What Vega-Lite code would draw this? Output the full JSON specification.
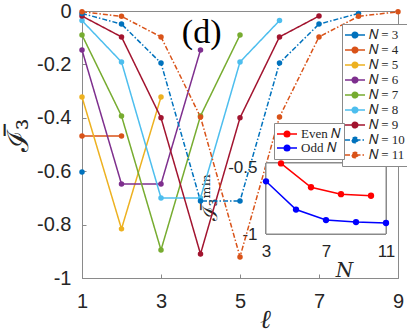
{
  "$schema": "https://vega.github.io/schema/vega-lite/v6.json",
  "autosize": "none",
  "width": 316,
  "height": 267,
  "padding": {"left": 82, "top": 11, "right": 9, "bottom": 54},
  "background": "white",
  "config": {
    "view": {"stroke": "#8a8a8a", "strokeWidth": 1},
    "font": "Liberation Sans",
    "axis": {"grid": false, "domainColor": "#8a8a8a", "tickColor": "#8a8a8a", "labelColor": "#262626", "titleColor": "#262626", "titleFontWeight": "normal"}
  },
  "datasets": {
    "main": [
      {"N": 3, "l": 1, "v": -0.603},
      {"N": 4, "l": 1, "v": -0.468}, {"N": 4, "l": 2, "v": -0.468},
      {"N": 5, "l": 1, "v": -0.322}, {"N": 5, "l": 2, "v": -0.816}, {"N": 5, "l": 3, "v": -0.322},
      {"N": 6, "l": 1, "v": -0.146}, {"N": 6, "l": 2, "v": -0.648}, {"N": 6, "l": 3, "v": -0.648}, {"N": 6, "l": 4, "v": -0.146},
      {"N": 7, "l": 1, "v": -0.09}, {"N": 7, "l": 2, "v": -0.393}, {"N": 7, "l": 3, "v": -0.895}, {"N": 7, "l": 4, "v": -0.393}, {"N": 7, "l": 5, "v": -0.09},
      {"N": 8, "l": 1, "v": -0.036}, {"N": 8, "l": 2, "v": -0.191}, {"N": 8, "l": 3, "v": -0.7}, {"N": 8, "l": 4, "v": -0.7}, {"N": 8, "l": 5, "v": -0.191}, {"N": 8, "l": 6, "v": -0.036},
      {"N": 9, "l": 1, "v": -0.019}, {"N": 9, "l": 2, "v": -0.097}, {"N": 9, "l": 3, "v": -0.4}, {"N": 9, "l": 4, "v": -0.91}, {"N": 9, "l": 5, "v": -0.4}, {"N": 9, "l": 6, "v": -0.097}, {"N": 9, "l": 7, "v": -0.019},
      {"N": 10, "l": 1, "v": -0.009}, {"N": 10, "l": 2, "v": -0.049}, {"N": 10, "l": 3, "v": -0.195}, {"N": 10, "l": 4, "v": -0.712}, {"N": 10, "l": 5, "v": -0.712}, {"N": 10, "l": 6, "v": -0.195}, {"N": 10, "l": 7, "v": -0.049}, {"N": 10, "l": 8, "v": -0.009},
      {"N": 11, "l": 1, "v": -0.003}, {"N": 11, "l": 2, "v": -0.02}, {"N": 11, "l": 3, "v": -0.097}, {"N": 11, "l": 4, "v": -0.397}, {"N": 11, "l": 5, "v": -0.921}, {"N": 11, "l": 6, "v": -0.397}, {"N": 11, "l": 7, "v": -0.097}, {"N": 11, "l": 8, "v": -0.02}, {"N": 11, "l": 9, "v": -0.003}
    ],
    "inset": [
      {"parity": "Even", "N": 4, "m": -0.468}, {"parity": "Even", "N": 6, "m": -0.648}, {"parity": "Even", "N": 8, "m": -0.7}, {"parity": "Even", "N": 10, "m": -0.712},
      {"parity": "Odd", "N": 3, "m": -0.603}, {"parity": "Odd", "N": 5, "m": -0.816}, {"parity": "Odd", "N": 7, "m": -0.895}, {"parity": "Odd", "N": 9, "m": -0.91}, {"parity": "Odd", "N": 11, "m": -0.917}
    ]
  },
  "layer": [
    {
      "data": {"name": "main"},
      "encoding": {
        "x": {"field": "l", "type": "quantitative", "scale": {"domain": [1, 9], "nice": false},
          "axis": {"values": [1, 3, 5, 7, 9], "labelFontSize": 20, "tickSize": -4, "labelPadding": 17, "labelFlush": false,
            "title": "ℓ", "titleFont": "DejaVu Serif", "titleFontSize": 26, "titleFontStyle": "italic", "titleX": 183, "titleY": 41, "titleBaseline": "middle", "titleAlign": "center"}},
        "y": {"field": "v", "type": "quantitative", "scale": {"domain": [-1, 0], "nice": false},
          "axis": {"values": [0, -0.2, -0.4, -0.6, -0.8, -1], "labelFontSize": 20, "tickSize": -4, "labelPadding": 15, "labelFlush": false,
            "labelExpr": "datum.value == 0 ? '0' : '-' + format(-datum.value, '~g')",
            "title": "ℐ̅₃", "titleFont": "DejaVu Serif", "titleFontSize": 29, "titleX": -64, "titleY": 124, "titleAngle": -90, "titleBaseline": "middle", "titleAlign": "center"}}
      },
      "layer": [
        {
          "mark": {"type": "line", "strokeWidth": 1.5},
          "encoding": {
            "stroke": {"field": "N", "type": "nominal",
              "scale": {"domain": [3, 4, 5, 6, 7, 8, 9, 10, 11], "range": ["#0072BD", "#D95319", "#EDB120", "#7E2F8E", "#77AC30", "#4DBEEE", "#A2142F", "#0072BD", "#D95319"]},
              "legend": {"orient": "none", "legendX": 260, "legendY": 13, "title": null, "direction": "vertical",
                "fillColor": "white", "strokeColor": "#8a8a8a", "padding": 4,
                "symbolType": "M-1.333,0H2M-0.134,0A0.467,0.467,0,1,0,0.8,0A0.467,0.467,0,1,0,-0.134,0Z",
                "symbolSize": 144, "symbolStrokeWidth": 1.5, "symbolOpacity": 1,
                "labelFont": "Liberation Serif", "labelFontSize": 13, "labelColor": "#262626", "labelOffset": 9, "rowPadding": 1,
                "labelExpr": "'𝑁 = ' + datum.label"}},
            "strokeDash": {"field": "N", "type": "nominal",
              "scale": {"domain": [3, 4, 5, 6, 7, 8, 9, 10, 11], "range": [[1, 0], [1, 0], [1, 0], [1, 0], [1, 0], [1, 0], [1, 0], [5, 2, 1.5, 2], [5, 2, 1.5, 2]]}}
          }
        },
        {
          "mark": {"type": "point", "filled": true, "size": 30, "opacity": 1},
          "encoding": {
            "fill": {"field": "N", "type": "nominal",
              "scale": {"domain": [3, 4, 5, 6, 7, 8, 9, 10, 11], "range": ["#0072BD", "#D95319", "#EDB120", "#7E2F8E", "#77AC30", "#4DBEEE", "#A2142F", "#0072BD", "#D95319"]}}
          }
        },
        {
          "transform": [{"filter": "datum.N == 3"}],
          "mark": {"type": "text", "text": "(d)", "font": "Liberation Serif", "fontSize": 34, "fontWeight": "normal", "fill": "#000000", "align": "center", "baseline": "middle"},
          "encoding": {"x": {"datum": 4.03}, "y": {"datum": -0.082}}
        }
      ]
    },
    {
      "data": {"name": "inset"},
      "encoding": {
        "x": {"field": "N", "type": "quantitative", "scale": {"domain": [3, 11], "range": [184, 304], "nice": false},
          "axis": {"orient": "bottom", "offset": -44, "values": [3, 7, 11], "labelFontSize": 17, "ticks": false, "domain": false, "labelPadding": 9, "labelFlush": false,
            "title": "𝑁", "titleFont": "DejaVu Serif", "titleFontSize": 20, "titleX": 262, "titleY": 36, "titleBaseline": "middle", "titleAlign": "center"}},
        "y": {"field": "m", "type": "quantitative", "scale": {"domain": [-1, -0.465], "range": [223, 152], "nice": false, "zero": false},
          "axis": {"orient": "left", "offset": -184, "values": [-0.5, -1], "labelFontSize": 17, "ticks": false, "domain": false, "labelPadding": 9, "labelFlush": false,
            "labelExpr": "'-' + format(-datum.value, '~g')",
            "title": "ℐ̅₃ᵐⁱⁿ", "titleFont": "DejaVu Serif", "titleFontSize": 20, "titleX": -56, "titleY": 186, "titleAngle": -90, "titleBaseline": "middle", "titleAlign": "center"}}
      },
      "layer": [
        {
          "mark": {"type": "rect", "fill": "white", "stroke": "#8a8a8a", "strokeWidth": 1},
          "encoding": {"x": {"datum": 3}, "x2": {"datum": 11}, "y": {"datum": -1}, "y2": {"datum": -0.465}}
        },
        {
          "mark": {"type": "line", "strokeWidth": 1.5},
          "encoding": {
            "color": {"field": "parity", "type": "nominal", "scale": {"domain": ["Even", "Odd"], "range": ["#ff0000", "#0000ff"]},
              "legend": {"orient": "none", "legendX": 192, "legendY": 112, "title": null, "direction": "vertical",
                "fillColor": "white", "strokeColor": "#8a8a8a", "padding": 4,
                "symbolType": "M-1.333,0H2M-0.134,0A0.467,0.467,0,1,0,0.8,0A0.467,0.467,0,1,0,-0.134,0Z",
                "symbolSize": 144, "symbolStrokeWidth": 1.5, "symbolOpacity": 1,
                "labelFont": "Liberation Serif", "labelFontSize": 13, "labelColor": "#262626", "labelOffset": 9, "rowPadding": 0,
                "labelExpr": "datum.label + ' 𝑁'"}}
          }
        },
        {
          "mark": {"type": "point", "filled": true, "size": 40, "opacity": 1},
          "encoding": {"color": {"field": "parity", "type": "nominal"}}
        }
      ]
    }
  ],
  "resolve": {"scale": {"x": "independent", "y": "independent"}}
}
